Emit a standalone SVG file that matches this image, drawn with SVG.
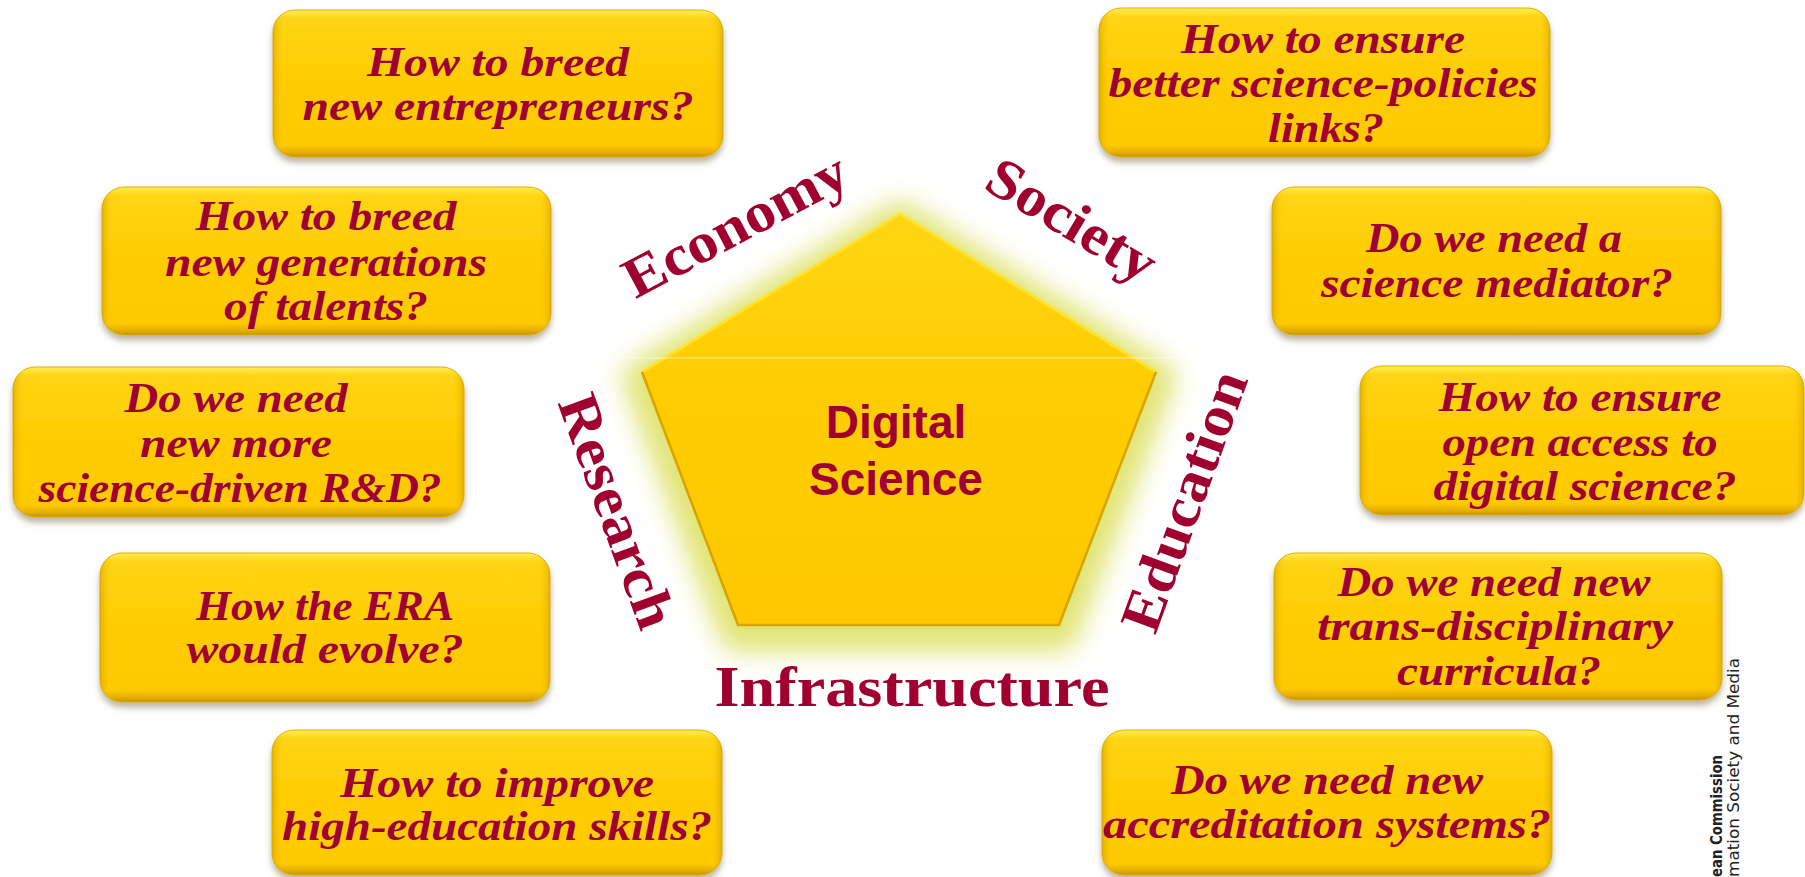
<svg xmlns="http://www.w3.org/2000/svg" width="1805" height="877" viewBox="0 0 1805 877">
<defs>
  <linearGradient id="boxFill" x1="0" y1="0" x2="0" y2="1">
    <stop offset="0" stop-color="#FFEE55"/>
    <stop offset="0.06" stop-color="#FFD414"/>
    <stop offset="0.5" stop-color="#FFCC00"/>
    <stop offset="0.92" stop-color="#FFC900"/>
    <stop offset="0.97" stop-color="#E6AE00"/>
    <stop offset="1" stop-color="#C39300"/>
  </linearGradient>
  <linearGradient id="boxSide" x1="0" y1="0" x2="1" y2="0">
    <stop offset="0" stop-color="#C89B00" stop-opacity="0.55"/>
    <stop offset="0.025" stop-color="#FFCC00" stop-opacity="0"/>
    <stop offset="0.975" stop-color="#FFCC00" stop-opacity="0"/>
    <stop offset="1" stop-color="#C89B00" stop-opacity="0.55"/>
  </linearGradient>
  <linearGradient id="pentFill" x1="0" y1="0" x2="0" y2="1">
    <stop offset="0" stop-color="#FFD614"/>
    <stop offset="0.4" stop-color="#FFCD02"/>
    <stop offset="1" stop-color="#FFC800"/>
  </linearGradient>
  <filter id="shadow" x="-5%" y="-5%" width="110%" height="125%">
    <feGaussianBlur in="SourceAlpha" stdDeviation="3"/>
    <feOffset dy="5" result="b"/>
    <feFlood flood-color="#6B5A30" flood-opacity="0.45"/>
    <feComposite in2="b" operator="in"/>
    <feMerge><feMergeNode/><feMergeNode in="SourceGraphic"/></feMerge>
  </filter>
  <filter id="glow" x="-30%" y="-30%" width="160%" height="160%">
    <feGaussianBlur stdDeviation="13"/>
  </filter>
</defs>
<style>
  .box { fill: url(#boxFill); stroke: #E2AE00; stroke-width: 1; filter: url(#shadow); }
  .side { fill: url(#boxSide); }
  .q { font-family: "Liberation Serif", "Times New Roman", serif; font-weight: bold; font-style: italic; font-size: 42px; fill: #9E0031; text-anchor: middle; }
  .lbl { font-family: "Liberation Serif", "Times New Roman", serif; font-weight: bold; font-size: 57px; fill: #A0002F; text-anchor: middle; }
  .core { font-family: "Liberation Sans", Arial, sans-serif; font-weight: bold; font-size: 46px; fill: #A0002F; text-anchor: middle; }
  .foot { font-family: "DejaVu Sans", Verdana, sans-serif; font-size: 15px; fill: #222222; text-anchor: end; }
</style>
<rect x="0" y="0" width="1805" height="877" fill="#FFFFFF"/>

<g id="connectors"></g>

<g id="center">
  <polygon points="900,214 1156,372 1059,625 738,625 642,372" transform="translate(0,7)" fill="#E1E472" stroke="#E1E472" stroke-width="38" stroke-linejoin="round" filter="url(#glow)"/>
  <polygon points="900,214 1156,372 1059,625 738,625 642,372" fill="url(#pentFill)"/>
  <polyline points="642,372 900,214 1156,372" fill="none" stroke="#FFE22E" stroke-width="3"/>
  <polyline points="1156,372 1059,625 738,625 642,372" fill="none" stroke="#D9A300" stroke-width="2.5"/>
  <line x1="615" y1="358" x2="1178" y2="358" stroke="#FFFFFF" stroke-opacity="0.6" stroke-width="1.2"/>
  <text class="core" x="896" y="438">Digital</text>
  <text class="core" x="896" y="495">Science</text>
</g>

<g id="labels">
  <text class="lbl" transform="translate(738,230) rotate(-28)" x="0" y="13" textLength="246" lengthAdjust="spacingAndGlyphs">Economy</text>
  <text class="lbl" transform="translate(1069,225) rotate(31)" x="0" y="13" textLength="188" lengthAdjust="spacingAndGlyphs">Society</text>
  <text class="lbl" transform="translate(617,511) rotate(70)" x="0" y="19" textLength="245" lengthAdjust="spacingAndGlyphs">Research</text>
  <text class="lbl" transform="translate(1184,501) rotate(-70)" x="0" y="19" textLength="273" lengthAdjust="spacingAndGlyphs">Education</text>
  <text class="lbl" x="912" y="706" textLength="395" lengthAdjust="spacingAndGlyphs">Infrastructure</text>
</g>

<g id="q1">
  <rect class="box" x="273" y="10" width="450" height="147" rx="22"/>
  <rect class="side" x="273" y="10" width="450" height="147" rx="22"/>
  <text class="q" x="498" y="76" textLength="262" lengthAdjust="spacingAndGlyphs">How to breed</text>
  <text class="q" x="498" y="120" textLength="391" lengthAdjust="spacingAndGlyphs">new entrepreneurs?</text>
</g>
<g id="q2">
  <rect class="box" x="102" y="187" width="449" height="148" rx="22"/>
  <rect class="side" x="102" y="187" width="449" height="148" rx="22"/>
  <text class="q" x="326" y="230" textLength="261" lengthAdjust="spacingAndGlyphs">How to breed</text>
  <text class="q" x="326" y="276" textLength="322" lengthAdjust="spacingAndGlyphs">new generations</text>
  <text class="q" x="326" y="320" textLength="204" lengthAdjust="spacingAndGlyphs">of talents?</text>
</g>
<g id="q3">
  <rect class="box" x="13" y="367" width="451" height="150" rx="22"/>
  <rect class="side" x="13" y="367" width="451" height="150" rx="22"/>
  <text class="q" x="236" y="412" textLength="223" lengthAdjust="spacingAndGlyphs">Do we need</text>
  <text class="q" x="236" y="457" textLength="192" lengthAdjust="spacingAndGlyphs">new more</text>
  <text class="q" x="240" y="502" textLength="403" lengthAdjust="spacingAndGlyphs">science-driven R&amp;D?</text>
</g>
<g id="q4">
  <rect class="box" x="100" y="553" width="450" height="149" rx="22"/>
  <rect class="side" x="100" y="553" width="450" height="149" rx="22"/>
  <text class="q" x="325" y="620" textLength="258" lengthAdjust="spacingAndGlyphs">How the ERA</text>
  <text class="q" x="325" y="663" textLength="277" lengthAdjust="spacingAndGlyphs">would evolve?</text>
</g>
<g id="q5">
  <rect class="box" x="272" y="730" width="450" height="145" rx="22"/>
  <rect class="side" x="272" y="730" width="450" height="145" rx="22"/>
  <text class="q" x="497" y="797" textLength="314" lengthAdjust="spacingAndGlyphs">How to improve</text>
  <text class="q" x="497" y="840" textLength="430" lengthAdjust="spacingAndGlyphs">high-education skills?</text>
</g>
<g id="q6">
  <rect class="box" x="1099" y="8" width="451" height="149" rx="22"/>
  <rect class="side" x="1099" y="8" width="451" height="149" rx="22"/>
  <text class="q" x="1323" y="53" textLength="284" lengthAdjust="spacingAndGlyphs">How to ensure</text>
  <text class="q" x="1323" y="97" textLength="429" lengthAdjust="spacingAndGlyphs">better science-policies</text>
  <text class="q" x="1326" y="142" textLength="116" lengthAdjust="spacingAndGlyphs">links?</text>
</g>
<g id="q7">
  <rect class="box" x="1272" y="187" width="449" height="148" rx="22"/>
  <rect class="side" x="1272" y="187" width="449" height="148" rx="22"/>
  <text class="q" x="1494" y="252" textLength="256" lengthAdjust="spacingAndGlyphs">Do we need a</text>
  <text class="q" x="1497" y="297" textLength="352" lengthAdjust="spacingAndGlyphs">science mediator?</text>
</g>
<g id="q8">
  <rect class="box" x="1360" y="366" width="444" height="149" rx="22"/>
  <rect class="side" x="1360" y="366" width="444" height="149" rx="22"/>
  <text class="q" x="1580" y="411" textLength="283" lengthAdjust="spacingAndGlyphs">How to ensure</text>
  <text class="q" x="1580" y="456" textLength="275" lengthAdjust="spacingAndGlyphs">open access to</text>
  <text class="q" x="1585" y="500" textLength="303" lengthAdjust="spacingAndGlyphs">digital science?</text>
</g>
<g id="q9">
  <rect class="box" x="1274" y="553" width="448" height="147" rx="22"/>
  <rect class="side" x="1274" y="553" width="448" height="147" rx="22"/>
  <text class="q" x="1494" y="596" textLength="313" lengthAdjust="spacingAndGlyphs">Do we need new</text>
  <text class="q" x="1495" y="640" textLength="356" lengthAdjust="spacingAndGlyphs">trans-disciplinary</text>
  <text class="q" x="1499" y="685" textLength="204" lengthAdjust="spacingAndGlyphs">curricula?</text>
</g>
<g id="q10">
  <rect class="box" x="1102" y="730" width="450" height="145" rx="22"/>
  <rect class="side" x="1102" y="730" width="450" height="145" rx="22"/>
  <text class="q" x="1327" y="794" textLength="312" lengthAdjust="spacingAndGlyphs">Do we need new</text>
  <text class="q" x="1327" y="838" textLength="448" lengthAdjust="spacingAndGlyphs">accreditation systems?</text>
</g>

<g id="footer">
  <text class="foot" transform="translate(1722,755) rotate(-90)" x="0" y="0" font-weight="bold" textLength="122" lengthAdjust="spacingAndGlyphs">ean Commission</text>
  <text class="foot" transform="translate(1739,658) rotate(-90)" x="0" y="0" textLength="219" lengthAdjust="spacingAndGlyphs">mation Society and Media</text>
</g>
</svg>
